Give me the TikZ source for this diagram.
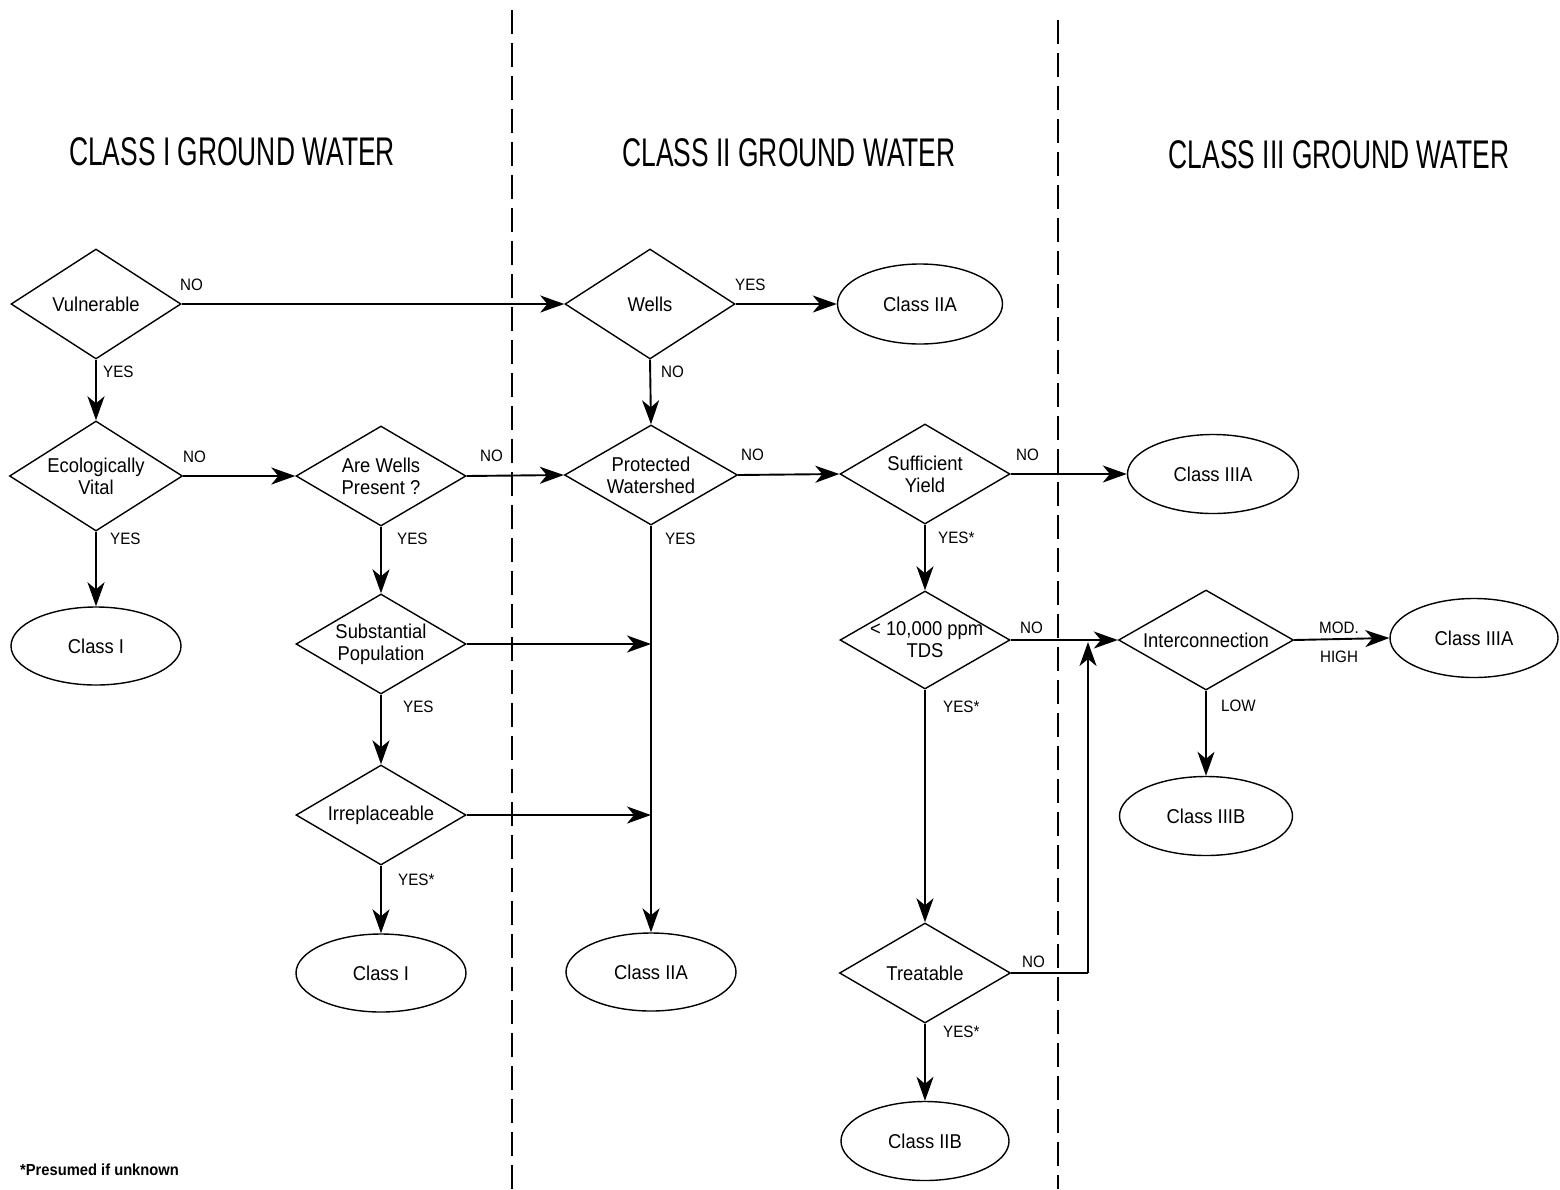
\documentclass[tikz,border=0pt]{standalone}
\usepackage{fontspec}
\setmainfont{Liberation Sans}
\newfontfamily\headfont[FakeStretch=0.66]{Liberation Sans}
\newfontfamily\bodyfont[FakeStretch=0.92]{Liberation Sans}
\usetikzlibrary{shapes.geometric,arrows.meta}
\tikzset{
  dtxt/.style={inner sep=0pt, align=center, font=\bodyfont\fontsize{20}{22}\selectfont},
  dmd/.style={draw, line width=1.4pt, diamond, inner sep=0pt, minimum width=170pt, minimum height=100pt, label={[dtxt]center:{#1}}},
  ell/.style={draw, line width=1.4pt, ellipse, inner sep=0pt, minimum width=170pt, minimum height=78pt, font=\bodyfont\fontsize{20}{22}\selectfont},
  arr/.style={line width=1.9pt, -{Stealth[length=24pt,width=17pt,inset=7pt]}},
  ln/.style={line width=1.9pt},
  lab/.style={inner sep=0pt, anchor=west, font=\bodyfont\fontsize{16.5}{18}\selectfont},
  head/.style={inner sep=0pt, font=\headfont\fontsize{40}{44}\selectfont},
  divider/.style={line width=1.4pt, dash pattern=on 24pt off 9pt}
}
\begin{document}
\begin{tikzpicture}[x=1pt,y=-1pt]
\useasboundingbox (0,0) rectangle (1560,1189);
% dividers
\draw[divider] (512,10) -- (512,1189);
\draw[divider] (1058,20) -- (1058,1189);
% headings
\node[head] (h1) at (232,152) {CLASS I GROUND WATER};
\node[head] (h2) at (789,153) {CLASS II GROUND WATER};
\node[head] (h3) at (1339,155) {CLASS III GROUND WATER};
% column 1
\node[dmd={Vulnerable}, minimum height=110pt] (V) at (96,304) {};
\node[dmd={Ecologically\\Vital}, minimum width=173pt, minimum height=110pt] (EV) at (96,476) {};
\node[ell] (C1a) at (96,646) {Class I};
\node[dmd={Are Wells\\Present ?}] (AW) at (381,476) {};
\node[dmd={Substantial\\Population}] (SP) at (381,644) {};
\node[dmd={Irreplaceable}] (IR) at (381,815) {};
\node[ell] (C1b) at (381,973) {Class I};
% column 2
\node[dmd={Wells}, minimum height=110pt] (W) at (650,304) {};
\node[ell, minimum width=165pt, minimum height=80pt] (C2a) at (920,304) {Class IIA};
\node[dmd={Protected\\Watershed}, minimum width=173pt] (PW) at (651,475) {};
\node[ell] (C2b) at (651,972) {Class IIA};
\node[dmd={Sufficient\\Yield}] (SY) at (925,474) {};
\node[dmd={\,< 10,000 ppm\\TDS}, minimum height=98pt] (TDS) at (925,640) {};
\node[dmd={Treatable}, minimum width=171pt] (TR) at (925,973) {};
\node[ell, minimum width=168pt, minimum height=79pt] (C2B) at (925,1141) {Class IIB};
% column 3
\node[ell, minimum width=171pt, minimum height=79pt] (C3a) at (1213,474) {Class IIIA};
\node[dmd={Interconnection}, minimum width=175pt] (IC) at (1206,640) {};
\node[ell, minimum width=168pt, minimum height=79pt] (C3a2) at (1474,638) {Class IIIA};
\node[ell, minimum width=173pt, minimum height=79pt] (C3b) at (1206,816) {Class IIIB};
% junction coordinates
\coordinate (j1) at (PW.south |- SP.east);
\coordinate (j2) at (PW.south |- IR.east);
\coordinate (t1) at (1088,973);
\coordinate (t2) at (1088,642);
% connectors
\draw[arr] (V.east) -- (W.west);
\draw[arr] (V.south) -- (EV.north);
\draw[arr] (EV.east) -- (AW.west);
\draw[arr] (EV.south) -- (C1a.north);
\draw[arr] (AW.east) -- (PW.west);
\draw[arr] (AW.south) -- (SP.north);
\draw[arr] (SP.east) -- (j1);
\draw[arr] (SP.south) -- (IR.north);
\draw[arr] (IR.east) -- (j2);
\draw[arr] (IR.south) -- (C1b.north);
\draw[arr] (W.east) -- (C2a.west);
\draw[arr] (W.south) -- (PW.north);
\draw[arr] (PW.south) -- (C2b.north);
\draw[arr] (PW.east) -- (SY.west);
\draw[arr] (SY.east) -- (C3a.west);
\draw[arr] (SY.south) -- (TDS.north);
\draw[arr] (TDS.east) -- (IC.west);
\draw[arr] (TDS.south) -- (TR.north);
\draw[arr] (TR.south) -- (C2B.north);
\draw[ln] (TR.east) -- (t1);
\draw[arr] (t1) -- (t2);
\draw[arr] (IC.east) -- (C3a2.west);
\draw[arr] (IC.south) -- (C3b.north);
% labels
\node[lab] (l1) at (180,285) {NO};
\node[lab] (l2) at (103,372) {YES};
\node[lab] (l3) at (183,457) {NO};
\node[lab] (l4) at (110,539) {YES};
\node[lab] (l5) at (480,456) {NO};
\node[lab] (l6) at (397,539) {YES};
\node[lab] (l7) at (403,707) {YES};
\node[lab] (l8) at (398,880) {YES*};
\node[lab] (l9) at (735,285) {YES};
\node[lab] (l10) at (661,372) {NO};
\node[lab] (l11) at (665,539) {YES};
\node[lab] (l12) at (741,455) {NO};
\node[lab] (l13) at (1016,455) {NO};
\node[lab] (l14) at (938,538) {YES*};
\node[lab] (l15) at (1020,628) {NO};
\node[lab] (l16) at (943,707) {YES*};
\node[lab] (l17) at (1022,962) {NO};
\node[lab] (l18) at (943,1032) {YES*};
\node[lab, anchor=center] (l19) at (1339,628) {MOD.};
\node[lab, anchor=center] (l20) at (1339,657) {HIGH};
\node[lab] (l21) at (1221,706) {LOW};
\node[inner sep=0pt, anchor=west, font=\bodyfont\bfseries\fontsize{16}{18}\selectfont] (fn) at (20,1170) {*Presumed if unknown};
\end{tikzpicture}
\end{document}
